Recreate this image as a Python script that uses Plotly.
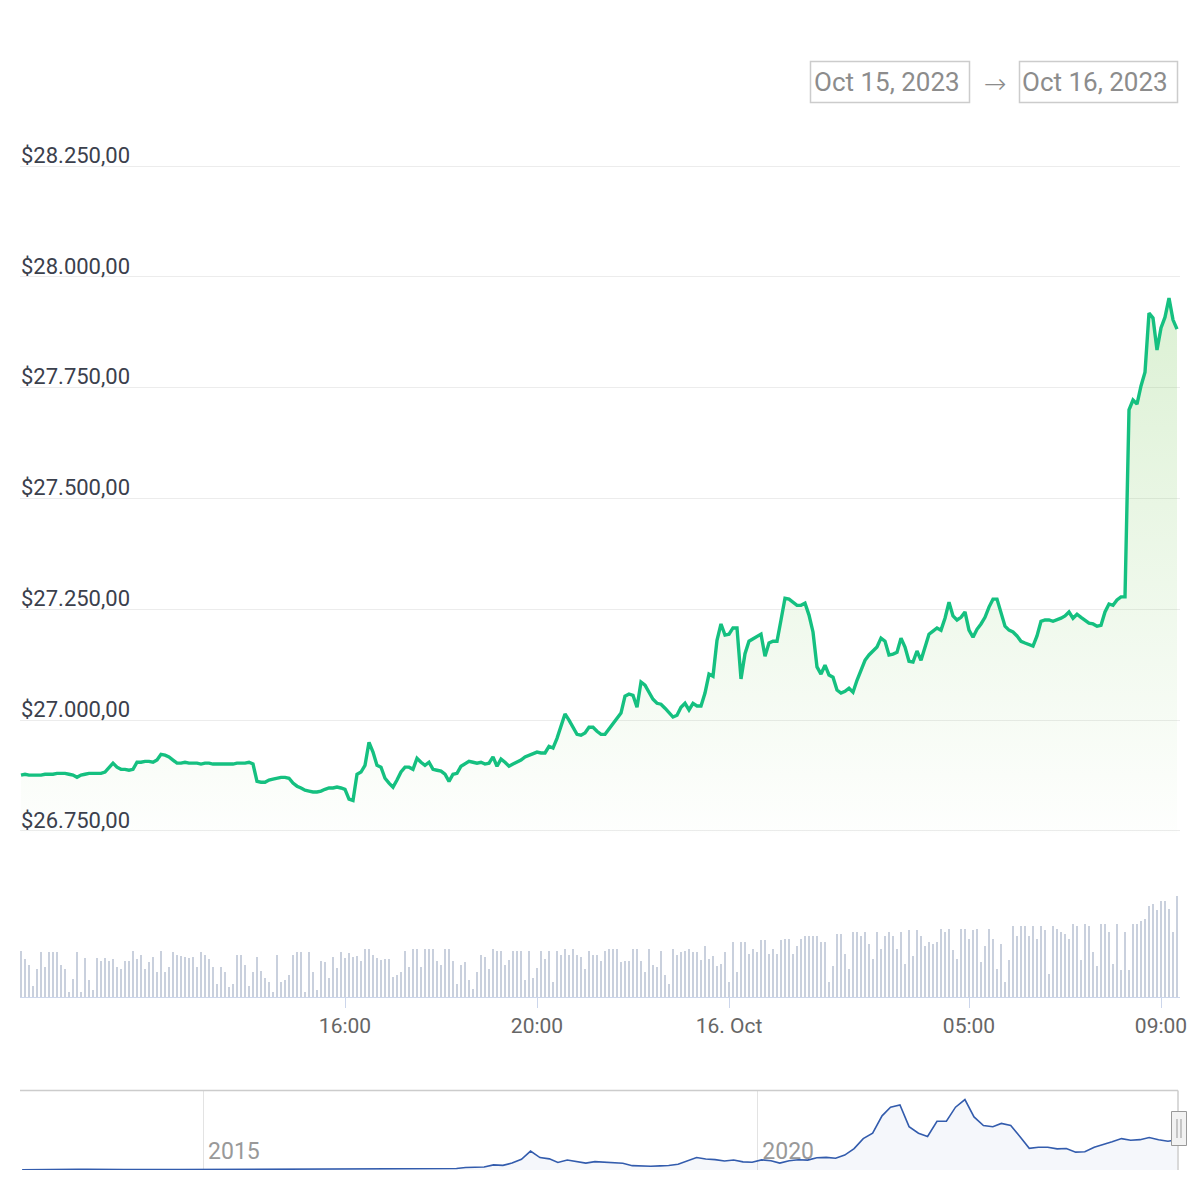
import plotly.graph_objects as go
import pandas as pd

W = H = 1200

# ---------------- data ----------------
price_start = "2023-10-15 09:15"
price_usd = [
    26876, 26878, 26876, 26876, 26876, 26876, 26878, 26878, 26878, 26880,
    26880, 26880, 26878, 26876, 26871, 26876, 26878, 26880, 26880, 26880,
    26880, 26883, 26894, 26903, 26894, 26889, 26889, 26887, 26889, 26905,
    26905, 26907, 26907, 26905, 26910, 26923, 26921, 26917, 26910, 26903,
    26903, 26905, 26903, 26903, 26903, 26901, 26903, 26903, 26901, 26901,
    26901, 26901, 26901, 26901, 26903, 26903, 26903, 26905, 26901, 26862,
    26860, 26860, 26865, 26867, 26869, 26871, 26871, 26869, 26858, 26851,
    26847, 26842, 26840, 26838, 26838, 26840, 26844, 26847, 26847, 26849,
    26847, 26844, 26822, 26819, 26878, 26883, 26898, 26950, 26928, 26898,
    26894, 26869, 26858, 26849, 26865, 26883, 26894, 26894, 26889, 26914,
    26905, 26898, 26905, 26889, 26887, 26885, 26878, 26862, 26878, 26880,
    26896, 26901, 26907, 26905, 26903, 26905, 26901, 26903, 26917, 26896,
    26912, 26905, 26896, 26901, 26905, 26910, 26917, 26921, 26926, 26928,
    26926, 26926, 26941, 26937, 26959, 26984, 27014, 27000, 26982, 26968,
    26966, 26971, 26984, 26984, 26975, 26968, 26968, 26980, 26995, 27007,
    27016, 27054, 27059, 27056, 27029, 27086, 27079, 27063, 27047, 27038,
    27036, 27027, 27018, 27007, 27011, 27029, 27038, 27023, 27038, 27032,
    27032, 27061, 27104, 27099, 27180, 27217, 27192, 27194, 27208, 27208,
    27093, 27150, 27178, 27183, 27190, 27194, 27144, 27174, 27178, 27178,
    27226, 27275, 27273, 27266, 27259, 27259, 27264, 27237, 27199, 27120,
    27104, 27124, 27102, 27097, 27068, 27061, 27065, 27072, 27063, 27090,
    27113, 27135, 27147, 27156, 27165, 27185, 27178, 27147, 27149, 27153,
    27185, 27165, 27133, 27131, 27156, 27135, 27162, 27194, 27201, 27208,
    27203, 27230, 27266, 27235, 27226, 27232, 27244, 27203, 27187, 27205,
    27217, 27232, 27255, 27273, 27273, 27241, 27212, 27203, 27199, 27190,
    27178, 27174, 27171, 27167, 27190, 27223, 27226, 27226, 27223, 27226,
    27230, 27235, 27244, 27230, 27239, 27232, 27226, 27219, 27217, 27212,
    27214, 27244, 27262, 27259, 27271, 27278, 27278, 27700, 27722, 27713,
    27754, 27785, 27918, 27907, 27835, 27885, 27909, 27952, 27903, 27882,
]

volume_units = [
    46, 38, 32, 11, 28, 45, 30, 45, 45, 45,
    32, 28, 5, 18, 45, 5, 39, 17, 7, 39,
    36, 39, 36, 38, 30, 28, 36, 36, 46, 38,
    42, 28, 35, 40, 25, 46, 25, 30, 45, 42,
    41, 40, 39, 40, 30, 45, 42, 38, 30, 13,
    30, 25, 10, 13, 42, 42, 32, 11, 25, 40,
    26, 19, 15, 5, 42, 15, 17, 22, 42, 45,
    45, 5, 45, 25, 7, 36, 35, 19, 40, 29,
    45, 39, 44, 40, 41, 36, 48, 48, 42, 39,
    37, 38, 38, 20, 22, 25, 46, 30, 48, 48,
    30, 48, 48, 48, 36, 32, 48, 48, 36, 13,
    32, 35, 17, 8, 25, 42, 40, 28, 48, 46,
    46, 32, 37, 46, 46, 46, 17, 46, 19, 29,
    46, 38, 46, 15, 46, 42, 48, 42, 48, 42,
    40, 28, 46, 42, 42, 36, 46, 48, 48, 48,
    35, 36, 36, 48, 48, 36, 25, 48, 32, 30,
    46, 22, 13, 48, 42, 45, 46, 48, 45, 45,
    37, 51, 38, 41, 31, 33, 45, 15, 55, 25,
    55, 55, 43, 48, 45, 57, 57, 43, 48, 43,
    57, 58, 58, 43, 51, 58, 61, 61, 61, 61,
    55, 55, 15, 31, 63, 63, 43, 28, 65, 65,
    61, 65, 53, 38, 65, 48, 61, 65, 61, 48,
    65, 33, 67, 41, 67, 61, 51, 55, 53, 55,
    68, 65, 68, 47, 38, 68, 68, 58, 67, 68,
    35, 51, 68, 58, 28, 53, 15, 37, 71, 61,
    71, 71, 61, 71, 58, 71, 67, 23, 71, 68,
    65, 63, 58, 73, 71, 37, 73, 71, 45, 31,
    73, 73, 65, 33, 73, 27, 65, 27, 73, 73,
    76, 78, 91, 93, 87, 96, 96, 88, 65, 101,
]

nav_start = "2013-05-01"
nav_price_usd = [
    120, 100, 90, 110, 125, 180, 700, 750,
    850, 600, 550, 450, 500, 620, 600, 500, 420, 350, 380, 330,
    230, 240, 260, 230, 235, 240, 285, 230, 235, 280, 360, 430,
    400, 420, 415, 440, 530, 700, 660, 575, 610, 700, 740, 960,
    930, 1150, 1080, 1350, 2300, 2500, 2800, 4700, 4300, 6400, 9900, 17500,
    11500, 10300, 6900, 9200, 7500, 6400, 7700, 7000, 6600, 6300, 4000, 3700,
    3450, 3800, 4100, 5300, 8500, 11500, 10100, 9600, 8300, 9200, 7500, 7200,
    9350, 8600, 6400, 8600, 9450, 9150, 11300, 11650, 10800, 13800, 19700, 29000,
    34000, 50000, 58000, 60000, 40000, 34000, 31000, 45000, 45000, 58000, 65000, 49000,
    41000, 40000, 43000, 41000, 31000, 20000, 21000, 21000, 19500, 19800, 16500, 16800,
    21000, 23500, 26000, 29000, 27500, 28000, 30000, 28000, 26500, 27900,
]

x_tick_times = ["2023-10-15 16:00", "2023-10-15 20:00", "2023-10-16 00:00",
                "2023-10-16 05:00", "2023-10-16 09:00"]
x_tick_text = ["16:00", "20:00", "16. Oct", "05:00", "09:00"]
price_ticks = [26750, 27000, 27250, 27500, 27750, 28000, 28250]
nav_tick_dates = ["2015-01-01", "2020-01-01"]
nav_tick_text = ["2015", "2020"]
date_from_text = "Oct 15, 2023"
date_to_text = "Oct 16, 2023"

# ---------------- helpers ----------------
def px_x(p):
    return p / W


def px_y(p):
    return 1 - p / H


times = pd.date_range(price_start, periods=len(price_usd), freq="5min")
vol_times = pd.date_range(price_start, periods=len(volume_units), freq="5min")
nav_dates = pd.date_range(nav_start, periods=len(nav_price_usd), freq="MS") + pd.Timedelta(days=14)

FONT = "Roboto"
GREEN = "#15c080"

fig = go.Figure()

# price area + line
fig.add_trace(go.Scatter(
    x=times, y=price_usd, mode="lines",
    line=dict(color=GREEN, width=3.4),
    fill="tozeroy",
    fillgradient=dict(type="vertical", start=26750, stop=27950,
                      colorscale=[[0, "rgba(120,200,90,0.01)"],
                                  [1, "rgba(120,200,90,0.26)"]]),
    xaxis="x", yaxis="y", hoverinfo="skip", showlegend=False,
))

# volume bars
fig.add_trace(go.Bar(
    x=vol_times, y=volume_units, width=110000,
    marker=dict(color="#c9d0dd", line=dict(width=0)),
    xaxis="x", yaxis="y2", hoverinfo="skip", showlegend=False,
))

# navigator series
fig.add_trace(go.Scatter(
    x=nav_dates, y=nav_price_usd, mode="lines",
    line=dict(color="#335cad", width=1.6),
    fill="tozeroy", fillcolor="rgba(51,92,173,0.05)",
    xaxis="x2", yaxis="y3", hoverinfo="skip", showlegend=False,
))

shapes = []
# navigator outline
shapes.append(dict(type="line", xref="paper", yref="paper",
                   x0=px_x(20), x1=px_x(1178), y0=px_y(1090.5), y1=px_y(1090.5),
                   line=dict(color="#cccccc", width=1.5)))
shapes.append(dict(type="line", xref="paper", yref="paper",
                   x0=px_x(1178), x1=px_x(1178), y0=px_y(1090.5), y1=px_y(1170),
                   line=dict(color="#cccccc", width=1.5)))
# navigator handle
shapes.append(dict(type="rect", xref="paper", yref="paper",
                   x0=px_x(1171.5), x1=px_x(1186.5), y0=px_y(1111.5), y1=px_y(1145.5),
                   fillcolor="#f2f2f2", line=dict(color="#999999", width=1)))
for hx in (1177, 1181):
    shapes.append(dict(type="line", xref="paper", yref="paper",
                       x0=px_x(hx), x1=px_x(hx), y0=px_y(1119), y1=px_y(1138),
                       line=dict(color="#999999", width=1)))
# date range boxes
for bx0, bx1 in ((810.5, 969.5), (1019.5, 1177.5)):
    shapes.append(dict(type="rect", xref="paper", yref="paper",
                       x0=px_x(bx0), x1=px_x(bx1), y0=px_y(61.5), y1=px_y(102.5),
                       fillcolor="rgba(0,0,0,0)", line=dict(color="#cccccc", width=1.5)))

annotations = [
    dict(text=date_from_text, x=px_x(887), y=px_y(82), xref="paper", yref="paper",
         showarrow=False, xanchor="center", yanchor="middle",
         font=dict(family=FONT, size=26, color="#8c8c8c")),
    dict(text="→", x=px_x(995), y=px_y(83), xref="paper", yref="paper",
         showarrow=False, xanchor="center", yanchor="middle",
         font=dict(family="DejaVu Sans", size=27, color="#8c8c8c", weight=200)),
    dict(text=date_to_text, x=px_x(1095), y=px_y(82), xref="paper", yref="paper",
         showarrow=False, xanchor="center", yanchor="middle",
         font=dict(family=FONT, size=26, color="#8c8c8c")),
]

fig.update_layout(
    width=W, height=H,
    margin=dict(l=0, r=0, t=0, b=0, pad=0, autoexpand=False),
    paper_bgcolor="white", plot_bgcolor="white",
    separators=",.",
    font=dict(family=FONT),
    showlegend=False,
    bargap=0,
    shapes=shapes,
    annotations=annotations,
    xaxis=dict(
        domain=[px_x(20), px_x(1180)],
        range=["2023-10-15 09:13:45", "2023-10-16 09:23:45"],
        anchor="y2", automargin=False,
        tickvals=x_tick_times, ticktext=x_tick_text,
        showgrid=False, zeroline=False,
        showline=True, linecolor="#ccd6eb", linewidth=1,
        ticks="outside", ticklen=10, tickcolor="#ccd6eb", tickwidth=1,
        tickfont=dict(family=FONT, size=21, color="#666666"),
        fixedrange=True,
    ),
    yaxis=dict(
        domain=[px_y(833.2), px_y(163.8)],
        range=[26745, 28255], automargin=False,
        tickvals=price_ticks,
        tickformat="$,.2f",
        showgrid=True, gridcolor="#ececec", gridwidth=1,
        zeroline=False, showline=False,
        ticks="",
        ticklabelposition="inside",
        ticklabelshift=-11,
        ticklabelstandoff=-2,
        ticklabeloverflow="allow",
        tickfont=dict(family=FONT, size=22, color="#3b404c"),
        fixedrange=True,
    ),
    yaxis2=dict(
        domain=[px_y(997), px_y(880)],
        range=[0, 117], automargin=False,
        showgrid=False, zeroline=False, showticklabels=False, showline=False,
        fixedrange=True,
    ),
    xaxis2=dict(
        domain=[px_x(20), px_x(1178)],
        range=["2013-05-08", "2023-10-18"],
        anchor="y3", automargin=False,
        tickvals=nav_tick_dates, ticktext=nav_tick_text,
        showgrid=True, gridcolor="#e3e3e3", gridwidth=1,
        zeroline=False, showline=False, ticks="",
        ticklabelposition="inside right",
        ticklabelshift=5,
        ticklabeloverflow="allow",
        tickfont=dict(family=FONT, size=23, color="#999999"),
        fixedrange=True,
    ),
    yaxis3=dict(
        domain=[px_y(1170), px_y(1090.5)],
        range=[0, 73400], automargin=False,
        showgrid=False, zeroline=False, showticklabels=False, showline=False,
        fixedrange=True,
    ),
)

fig.write_html("out.html")
